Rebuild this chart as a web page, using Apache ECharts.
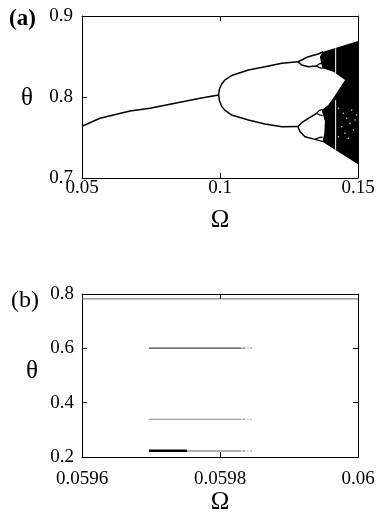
<!DOCTYPE html>
<html>
<head>
<meta charset="utf-8">
<script src="https://cdn.jsdelivr.net/npm/echarts@6/dist/echarts.min.js"></script>
<style>
  html, body { margin: 0; background: #fff; }
  #chart { width: 382px; height: 519px; }
</style>
</head>
<body>
<div id="chart"></div>
<script>
// ---- panel (a): bifurcation diagram, [Omega, theta] ----
const period1 = [[0.05, 0.764], [0.0565, 0.7737], [0.0674, 0.7827], [0.0746, 0.7861], [0.0928, 0.7984], [0.0995, 0.8025]];
const upperBranch = [[0.0995, 0.8025], [0.0998, 0.8099], [0.1006, 0.816], [0.1018, 0.821], [0.1042, 0.8265], [0.1103, 0.8333], [0.1163, 0.8374], [0.1224, 0.8416], [0.1282, 0.8436]];
const lowerBranch = [[0.0995, 0.8025], [0.0998, 0.7954], [0.1006, 0.7885], [0.1018, 0.7835], [0.1042, 0.7778], [0.1103, 0.7716], [0.1163, 0.7667], [0.1224, 0.7633], [0.1282, 0.7635]];
const bubbleHighTop = [[0.1282, 0.8436], [0.1296, 0.8457], [0.132, 0.8498], [0.1356, 0.8531], [0.1374, 0.8559]];
const bubbleHighBottom = [[0.1282, 0.8436], [0.1296, 0.8395], [0.132, 0.8374], [0.135, 0.8383]];
const smallHighA = [[0.135, 0.8383], [0.136, 0.841], [0.1372, 0.842]];
const smallHighB = [[0.135, 0.8383], [0.136, 0.8362], [0.1372, 0.8354]];
const bubbleLowTop = [[0.1282, 0.7635], [0.1296, 0.7683], [0.132, 0.7737], [0.135, 0.7799]];
const bubbleLowBottom = [[0.1282, 0.7635], [0.129, 0.7572], [0.1308, 0.751], [0.1344, 0.7477]];
const smallLowA = [[0.135, 0.7799], [0.136, 0.7835], [0.137, 0.7845]];
const smallLowB = [[0.135, 0.7799], [0.136, 0.778], [0.1372, 0.777]];
const smallLowC = [[0.1344, 0.7477], [0.136, 0.75], [0.1372, 0.7505]];
const smallLowD = [[0.1344, 0.7477], [0.136, 0.746], [0.1372, 0.7448]];
// outline of the chaotic (black) band
const chaosBand = [[0.1362, 0.85], [0.1374, 0.8559], [0.15, 0.869], [0.15, 0.717], [0.1371, 0.7448], [0.1378, 0.755], [0.138, 0.77],
  [0.1368, 0.784], [0.1392, 0.79], [0.1411, 0.799], [0.1453, 0.821], [0.1411, 0.8312], [0.1371, 0.8354], [0.1366, 0.842]];
// periodic window (white line) and white specks inside the band
const windowHigh = [[0.1419, 0.8295], [0.1419, 0.86]];
const windowLow = [[0.1419, 0.735], [0.1419, 0.796]];
const specks = [[0.1429, 0.786], [0.1447, 0.7799], [0.1459, 0.7737], [0.1477, 0.784], [0.1471, 0.7675], [0.1441, 0.7633],
  [0.1483, 0.7593], [0.1453, 0.7552], [0.1489, 0.7716], [0.1429, 0.751], [0.1465, 0.749], [0.1495, 0.7778]];

// ---- panel (b): zoom near Omega = 0.0597 ----
const fixedLine = [[0.0596, 0.782], [0.06, 0.782]];
const orbitLevels = [0.601, 0.339, 0.2221];
const orbitStart = 0.059697;
const orbitEnd = 0.059831;
const orbitTailEnd = 0.059846;
const thickSegment = [[0.059697, 0.2232], [0.059752, 0.2232]];

const serif = 'Liberation Serif';
const chart = echarts.init(document.getElementById('chart'));

function frameAxis(gridIndex, pos, min, max, interval, labels, margin, digits) {
  return {
    type: 'value', gridIndex: gridIndex, position: pos, min: min, max: max, interval: interval,
    axisLine: { show: true, onZero: false, lineStyle: { color: '#000', width: 1 } },
    axisTick: { show: true, inside: true, length: 5, lineStyle: { color: '#000' } },
    splitLine: { show: false },
    axisLabel: {
      show: labels, margin: margin, color: '#000', fontFamily: serif, fontSize: 19,
      showMinLabel: true, showMaxLabel: true,
      formatter: function (v) { return String(+v.toFixed(digits)); }
    }
  };
}

function line(data, xi, color, width, extra) {
  return Object.assign({
    type: 'line', data: data, xAxisIndex: xi, yAxisIndex: xi, symbol: 'none', silent: true,
    lineStyle: { color: color, width: width }, z: 3
  }, extra || {});
}

const series = [
  {
    type: 'custom', xAxisIndex: 0, yAxisIndex: 0, data: [chaosBand[0]], z: 2, silent: true,
    renderItem: function (params, api) {
      return { type: 'polygon', shape: { points: chaosBand.map(function (p) { return api.coord(p); }) }, style: { fill: '#000' } };
    }
  },
  line(period1, 0, '#000', 1.6),
  line(upperBranch, 0, '#000', 1.5),
  line(lowerBranch, 0, '#000', 1.5),
  line(bubbleHighTop, 0, '#000', 1.5),
  line(bubbleHighBottom, 0, '#000', 1.5),
  line(smallHighA, 0, '#000', 1.3),
  line(smallHighB, 0, '#000', 1.3),
  line(bubbleLowTop, 0, '#000', 1.5),
  line(bubbleLowBottom, 0, '#000', 1.5),
  line(smallLowA, 0, '#000', 1.3),
  line(smallLowB, 0, '#000', 1.3),
  line(smallLowC, 0, '#000', 1.3),
  line(smallLowD, 0, '#000', 1.3),
  line(windowHigh, 0, '#fff', 1, { z: 4 }),
  line(windowLow, 0, '#fff', 1, { z: 4 }),
  {
    type: 'scatter', xAxisIndex: 0, yAxisIndex: 0, data: specks, symbolSize: 1.6, silent: true, z: 4,
    itemStyle: { color: '#fff' }
  },
  line(fixedLine, 2, '#666', 1),
  line(thickSegment, 2, '#000', 2.6, { z: 4 })
];
const levelColors = ['#444', '#888', '#666'];
orbitLevels.forEach(function (y, i) {
  series.push(line([[orbitStart, y], [orbitEnd, y]], 2, levelColors[i], 1.2));
  series.push(line([[orbitEnd + 0.0000015, y], [orbitTailEnd, y]], 2, levelColors[i], 1, {
    lineStyle: { color: levelColors[i], width: 1, type: [3, 2, 1, 2] }
  }));
});

const option = {
  animation: false,
  backgroundColor: '#fff',
  grid: [
    { left: 82, right: 24, top: 16, height: 162 },
    { left: 82, right: 24, top: 294, height: 163 }
  ],
  xAxis: [
    Object.assign(frameAxis(0, 'bottom', 0.05, 0.15, 0.05, true, 1, 2), {
      name: 'Ω', nameLocation: 'middle', nameGap: 30,
      nameTextStyle: { fontFamily: serif, fontSize: 25, color: '#000' }
    }),
    frameAxis(0, 'top', 0.05, 0.15, 0.05, false, 0, 2),
    Object.assign(frameAxis(1, 'bottom', 0.0596, 0.06, 0.0002, true, 13, 4), {
      name: 'Ω', nameLocation: 'middle', nameGap: 23,
      nameTextStyle: { fontFamily: serif, fontSize: 25, color: '#000' }
    }),
    frameAxis(1, 'top', 0.0596, 0.06, 0.0002, false, 0, 4)
  ],
  yAxis: [
    frameAxis(0, 'left', 0.7, 0.9, 0.1, true, 9, 1),
    frameAxis(0, 'right', 0.7, 0.9, 0.1, false, 0, 1),
    frameAxis(1, 'left', 0.2, 0.8, 0.2, true, 8, 1),
    frameAxis(1, 'right', 0.2, 0.8, 0.2, false, 0, 1)
  ],
  graphic: [
    { type: 'text', left: 9, top: 8, style: { text: '(a)', font: 'bold 23px "Liberation Serif"', fill: '#000' } },
    { type: 'text', left: 11, top: 289, style: { text: '(b)', font: '24px "Liberation Serif"', fill: '#000' } },
    { type: 'text', left: 21, top: 86, style: { text: 'θ', font: '25px "Liberation Serif"', fill: '#000' } },
    { type: 'text', left: 26, top: 359, style: { text: 'θ', font: '25px "Liberation Serif"', fill: '#000' } }
  ],
  series: series
};

option && chart.setOption(option);
</script>
</body>
</html>
